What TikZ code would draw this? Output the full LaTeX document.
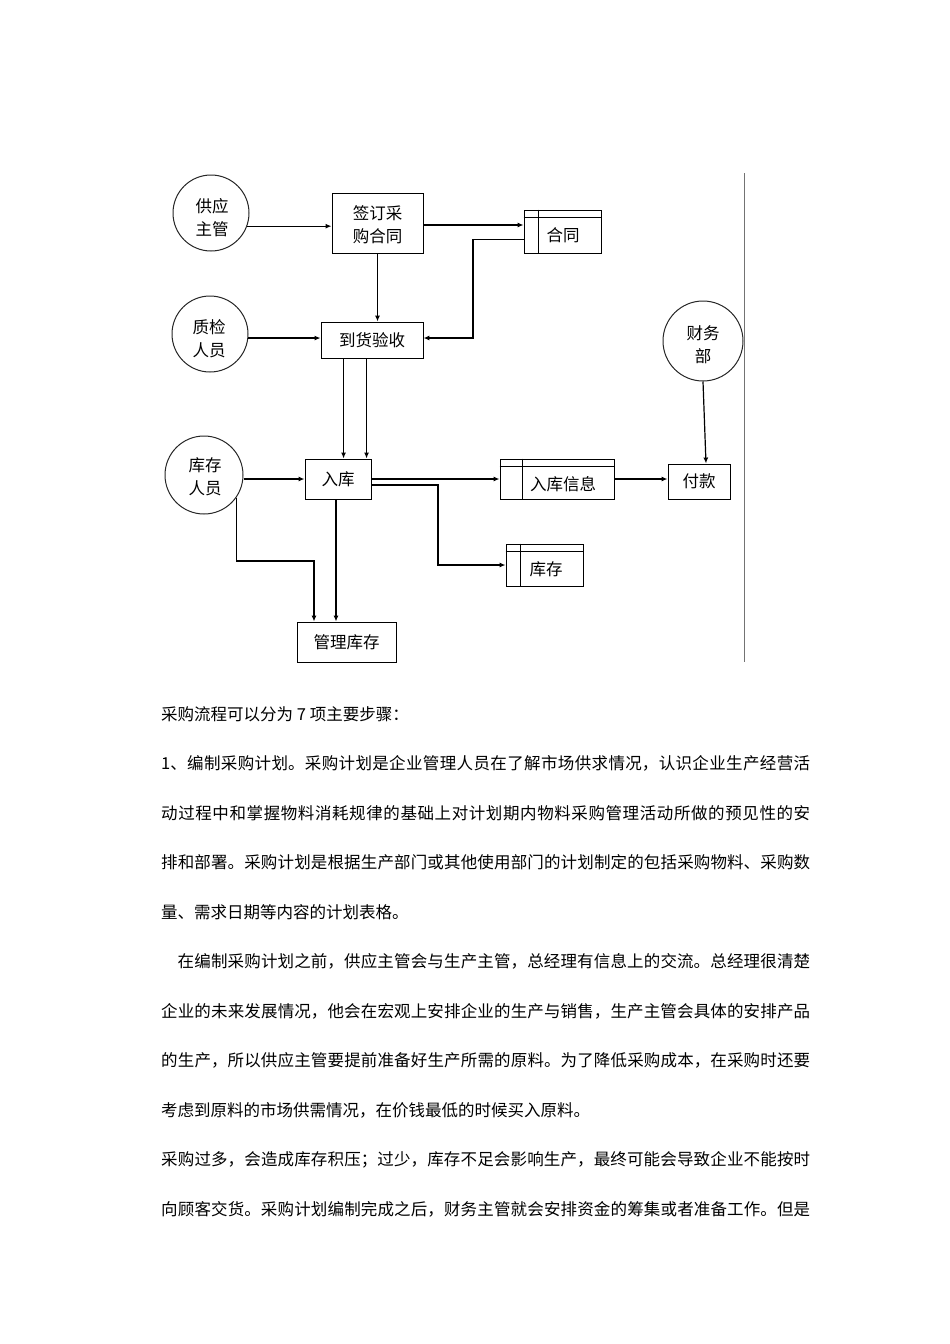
\documentclass[tikz,border=0pt]{standalone}
\usepackage{fontspec}
\setmainfont{Noto Sans CJK SC}
\XeTeXlinebreaklocale "zh"
\XeTeXlinebreakskip=0pt plus 1pt
\usetikzlibrary{arrows.meta,calc}
\newcommand{\dlabelfont}{\fontsize{16.5}{23}\selectfont}
\newcommand{\dbodyfont}{\fontsize{16.5}{49.5}\selectfont}
\begin{document}
\begin{tikzpicture}[x=1pt,y=-1pt,
  box/.style={draw, line width=0.9pt, inner sep=0pt, align=center, font=\dlabelfont},
  circ/.style={draw, circle, line width=1pt, draw=black!85, inner sep=0pt},
  store/.style={draw, line width=0.9pt, inner sep=0pt},
  arr/.style={line width=1.2pt, -{Latex[length=6pt,width=5pt]}},
  lbl/.style={inner sep=0pt, align=center, font=\dlabelfont}]
\useasboundingbox (0,0) rectangle (950,1344);

% circles (external entities)
\node[circ, minimum size=76pt] (gy) at (211,213) {};
\node[circ, minimum size=76pt] (zj) at (210,334) {};
\node[circ, minimum size=78pt] (kcr) at (204,475) {};
\node[circ, minimum size=80pt] (cw) at (703,341) {};
\node[lbl] (gyl) at (212,218) {供应\\主管};
\node[lbl] (zjl) at (209,339) {质检\\人员};
\node[lbl] (kcrl) at (205,477) {库存\\人员};
\node[lbl] (cwl) at (703,345) {财务\\部};

% process boxes
\node[box, minimum width=91pt, minimum height=60pt] (qd) at (377.5,223) {};
\node[lbl] (qdl) at (377.5,225) {签订采\\购合同};
\node[box, minimum width=102pt, minimum height=36pt] (dh) at (372,340) {到货验收};
\node[box, minimum width=66pt, minimum height=40pt] (rk) at (338,479) {入库};
\node[box, minimum width=99pt, minimum height=40pt] (gl) at (346.5,642) {管理库存};
\node[box, minimum width=62pt, minimum height=35pt] (fk) at (699,481.5) {付款};

% data stores
\node[store, minimum width=77pt, minimum height=43pt] (ht) at (562.5,231.5) {};
\node[store, minimum width=114pt, minimum height=40pt] (rx) at (557,479) {};
\node[store, minimum width=77pt, minimum height=42pt] (kc) at (544.5,565) {};
\node[lbl] (htl) at (563,235) {合同};
\node[lbl] (rxl) at (563,484) {入库信息};
\node[lbl] (kcl) at (546,569) {库存};
\draw[line width=0.9pt] ($(ht.north west)+(0,8)$) -- ($(ht.north east)+(0,8)$);
\draw[line width=0.9pt] ($(ht.north west)+(15,0)$) -- ($(ht.south west)+(15,0)$);
\draw[line width=0.9pt] ($(rx.north west)+(0,8)$) -- ($(rx.north east)+(0,8)$);
\draw[line width=0.9pt] ($(rx.north west)+(23,0)$) -- ($(rx.south west)+(23,0)$);
\draw[line width=1.8pt] ($(kc.north west)+(0,8)$) -- ($(kc.north east)+(0,8)$);
\draw[line width=1.8pt] ($(kc.north west)+(15,0)$) -- ($(kc.south west)+(15,0)$);

% separator
\coordinate (sepT) at (744,173);
\coordinate (sepB) at (744,662);
\draw[line width=1pt, black!55] (sepT) -- (sepB);

% bend and start points
\coordinate (b1) at (473,338);
\coordinate (b2) at (438,565);
\coordinate (b3) at (314,561);
\coordinate (d1) at ($(dh.south west)+(23,0)$);
\coordinate (d2) at ($(dh.south west)+(46,0)$);
\coordinate (r1) at ($(rk.south)+(-2,0)$);
\coordinate (q1) at ($(qd.east)+(0,2)$);
\coordinate (h1) at ($(ht.south west)+(0,-14)$);
\coordinate (r2) at ($(rk.east)+(0,6)$);
\coordinate (f1) at ($(fk.north)+(7,0)$);

% connectors
\draw[arr] (gy.-20) -- (qd.west |- gy.-20);
\draw[arr] (q1) -- (ht.west |- q1);
\draw[arr] (qd.south) -- (qd.south |- dh.north);
\draw[arr] (zj.-6) -- (dh.west |- zj.-6);
\draw[arr] (h1) -| (b1) -- (dh.east |- b1);
\draw[arr] (d1) -- (d1 |- rk.north);
\draw[arr] (d2) -- (d2 |- rk.north);
\draw[arr] (kcr.east |- rk.west) -- (rk.west);
\draw[arr] (rk.east) -- (rx.west);
\draw[arr] (r2) -| (b2) -- (kc.west |- b2);
\draw[arr] (rx.east) -- (fk.west |- rx.east);
\draw[arr] (cw.south) -- (f1);
\draw[arr] (r1) -- (r1 |- gl.north);
\draw[arr] (kcr.-35) |- (b3) -- (b3 |- gl.north);

% body text
\node[anchor=base west, inner sep=0pt, text width=649pt, align=justify, font=\dbodyfont] (body) at (161,720.3) {%
采购流程可以分为 7 项主要步骤：\par
1、编制采购计划。采购计划是企业管理人员在了解市场供求情况，认识企业生产经营活\linebreak
动过程中和掌握物料消耗规律的基础上对计划期内物料采购管理活动所做的预见性的安\linebreak
排和部署。采购计划是根据生产部门或其他使用部门的计划制定的包括采购物料、采购数\linebreak
量、需求日期等内容的计划表格。\par
\hspace*{16.5pt}在编制采购计划之前，供应主管会与生产主管，总经理有信息上的交流。总经理很清楚\linebreak
企业的未来发展情况，他会在宏观上安排企业的生产与销售，生产主管会具体的安排产品\linebreak
的生产，所以供应主管要提前准备好生产所需的原料。为了降低采购成本，在采购时还要\linebreak
考虑到原料的市场供需情况，在价钱最低的时候买入原料。\par
采购过多，会造成库存积压；过少，库存不足会影响生产，最终可能会导致企业不能按时\linebreak
向顾客交货。采购计划编制完成之后，财务主管就会安排资金的筹集或者准备工作。但是\parfillskip=0pt\par};
\end{tikzpicture}
\end{document}
